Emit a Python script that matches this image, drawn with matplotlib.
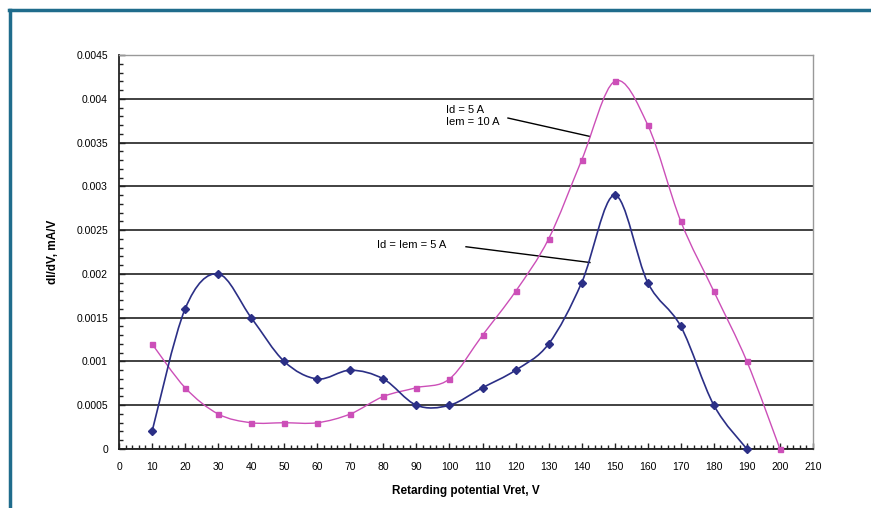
import numpy as np
import matplotlib.pyplot as plt
from matplotlib.path import Path
from matplotlib.patches import PathPatch
from matplotlib.lines import Line2D
from matplotlib.ticker import MultipleLocator, FuncFormatter

plt.rcParams['font.family'] = ['Liberation Sans', 'DejaVu Sans']

# retarding potential, V
v_blue = [10, 20, 30, 40, 50, 60, 70, 80, 90, 100, 110, 120, 130, 140, 150, 160, 170, 180, 190]
v_pink = [10, 20, 30, 40, 50, 60, 70, 80, 90, 100, 110, 120, 130, 140, 150, 160, 170, 180, 190, 200]

# dI/dV, mA/V
didv_blue = [0.0002, 0.0016, 0.0020, 0.0015, 0.0010, 0.0008, 0.0009, 0.0008, 0.0005, 0.0005,
             0.0007, 0.0009, 0.0012, 0.0019, 0.0029, 0.0019, 0.0014, 0.0005, 0.0]
didv_pink = [0.0012, 0.0007, 0.0004, 0.0003, 0.0003, 0.0003, 0.0004, 0.0006, 0.0007, 0.0008,
             0.0013, 0.0018, 0.0024, 0.0033, 0.0042, 0.0037, 0.0026, 0.0018, 0.0010, 0.0]

label_blue = 'Id = Iem = 5 A'
label_pink = 'Id = 5 A\nIem = 10 A'

c_blue = '#2b2f86'
c_pink = '#cc4fb8'


def smooth_path(x, y):
    # spreadsheet-style smoothed line: bezier segments through every point
    p = np.column_stack([x, y]).astype(float)
    n = len(p)
    verts = [p[0]]
    codes = [Path.MOVETO]
    for i in range(n - 1):
        p0 = p[i - 1] if i > 0 else p[i]
        p3 = p[i + 2] if i + 2 < n else p[i + 1]
        c1 = p[i] + (p[i + 1] - p0) / 6.0
        c2 = p[i + 1] - (p3 - p[i]) / 6.0
        verts += [c1, c2, p[i + 1]]
        codes += [Path.CURVE4] * 3
    return Path(verts, codes)


fig = plt.figure(figsize=(8.71, 5.08), dpi=100)
ax = fig.add_axes([119 / 871, 1 - 449 / 508, 694 / 871, 394 / 508])

ax.add_patch(PathPatch(smooth_path(v_pink, didv_pink), fill=False, edgecolor=c_pink, lw=1.0, zorder=3))
ax.add_patch(PathPatch(smooth_path(v_blue, didv_blue), fill=False, edgecolor=c_blue, lw=1.2, zorder=4))
ax.plot(v_pink, didv_pink, ls='none', marker='s', ms=3.6, color=c_pink, zorder=5, clip_on=False)
ax.plot(v_blue, didv_blue, ls='none', marker='D', ms=3.8, color=c_blue, zorder=6, clip_on=False)

ax.set_xlim(0, 210)
ax.set_ylim(0, 0.0045)
ax.xaxis.set_major_locator(MultipleLocator(10))
ax.xaxis.set_minor_locator(MultipleLocator(2))
ax.yaxis.set_major_locator(MultipleLocator(0.0005))
ax.yaxis.set_minor_locator(MultipleLocator(0.0001))
ax.yaxis.set_major_formatter(FuncFormatter(lambda v, pos: '0' if abs(v) < 1e-12 else '%g' % round(v, 4)))

ax.tick_params(which='both', direction='in', labelsize=7.5, color='#222222', width=1)
ax.tick_params(which='major', length=4)
ax.tick_params(which='minor', length=3)
ax.tick_params(axis='x', which='major', pad=9)
ax.tick_params(axis='y', which='major', pad=8)
ax.tick_params(right=False, top=False, which='both')

ax.grid(axis='y', which='major', color='#333333', lw=1.3, zorder=1)
for s in ['left', 'bottom']:
    ax.spines[s].set_color('#222222')
    ax.spines[s].set_linewidth(1.3)
for s in ['top', 'right']:
    ax.spines[s].set_color('#999999')
    ax.spines[s].set_linewidth(1.0)

ax.set_xlabel('Retarding potential Vret, V', fontsize=8.5, fontweight='bold', labelpad=10)
ax.set_ylabel('dI/dV, mA/V', fontsize=8.5, fontweight='bold', labelpad=12)

# curve labels with leader lines
ax.text(99, 0.00380, label_pink, fontsize=8, va='center', ha='left', linespacing=1.25)
ax.plot([117.7, 142.5], [0.00378, 0.00357], color='black', lw=1)
ax.text(78, 0.00233, label_blue, fontsize=8, va='center', ha='left')
ax.plot([105, 142.5], [0.00231, 0.00213], color='black', lw=1)

# frame around the figure
fig.add_artist(Line2D([8.5 / 871, 1], [1 - 10 / 508, 1 - 10 / 508], color='#1f6c8c', lw=2.5))
fig.add_artist(Line2D([9.5 / 871, 9.5 / 871], [0, 1 - 10 / 508], color='#1f6c8c', lw=2.5))

fig.savefig('out.png', dpi=100)
